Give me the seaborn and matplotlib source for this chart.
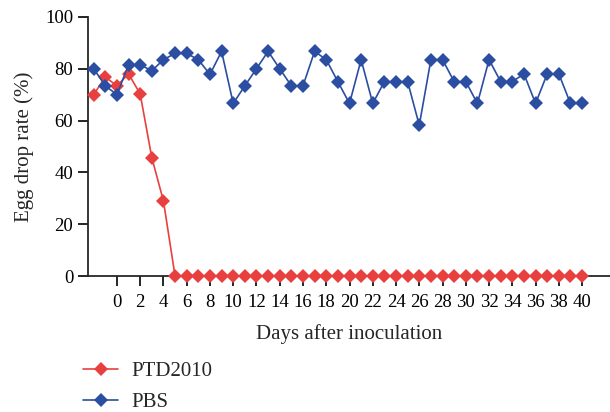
import numpy as np
import pandas as pd
import seaborn as sns
import matplotlib
matplotlib.use("Agg")
import matplotlib.pyplot as plt

# Datos
dias = list(range(-2, 41))
ptd2010 = [70, 76.8, 73.4, 78, 70.3, 45.7, 29] + [0] * 36
pbs = [80, 73.4, 70, 81.5, 81.5, 79.2, 83.5, 85.9, 85.9, 83.5, 77.8, 86.7,
       66.6, 73.4, 80, 86.7, 80, 73.4, 73.4, 86.7, 83.5, 75, 66.6, 83.5,
       66.6, 75, 75, 75, 58.2, 83.5, 83.5, 75, 75, 66.6, 83.5, 75, 75, 78,
       66.6, 78, 78, 66.6, 66.6]
series = ["PTD2010", "PBS"]
colores = {"PTD2010": "#e8403f", "PBS": "#2b4ea2"}

df = pd.DataFrame({
    "dia": dias * 2,
    "valor": ptd2010 + pbs,
    "grupo": ["PTD2010"] * len(dias) + ["PBS"] * len(dias),
})

sns.set_style("ticks")
plt.rcParams["font.family"] = ["Liberation Serif", "DejaVu Serif"]

fig = plt.figure(figsize=(6.1, 4.12), dpi=100)
ax = fig.add_axes([0.144, 0.330, 0.856, 0.629])

sns.lineplot(data=df, x="dia", y="valor", hue="grupo", hue_order=series,
             palette=colores, style="grupo", markers=["D", "D"], dashes=False,
             markersize=7, markeredgewidth=0, linewidth=1.2, ax=ax,
             legend=False, clip_on=False, zorder=3)

ax.set_xlim(-2.5, 42.4)
ax.set_ylim(0, 100)
ax.set_xticks(range(0, 41, 2))
ax.set_yticks(range(0, 101, 20))
ax.tick_params(axis="both", direction="out", length=7, width=1.2,
               labelsize=13.5, colors="black")
ax.tick_params(axis="x", pad=6)
for s in ["left", "bottom"]:
    ax.spines[s].set_linewidth(1.3)
ax.spines["top"].set_visible(False)
ax.spines["right"].set_visible(False)
ax.set_xlabel("Days after inoculation", fontsize=15, labelpad=9)
ax.set_ylabel("Egg drop rate (%)", fontsize=15, labelpad=8)

manijas = [plt.Line2D([], [], color=colores[g], marker="D", markersize=7,
                      markeredgewidth=0, linewidth=1.2) for g in series]
fig.legend(manijas, series, loc="lower left", bbox_to_anchor=(0.105, -0.046),
           frameon=False, fontsize=15, handlelength=1.7, labelspacing=0.55,
           handletextpad=0.65)

fig.savefig("out.png", dpi=100)
